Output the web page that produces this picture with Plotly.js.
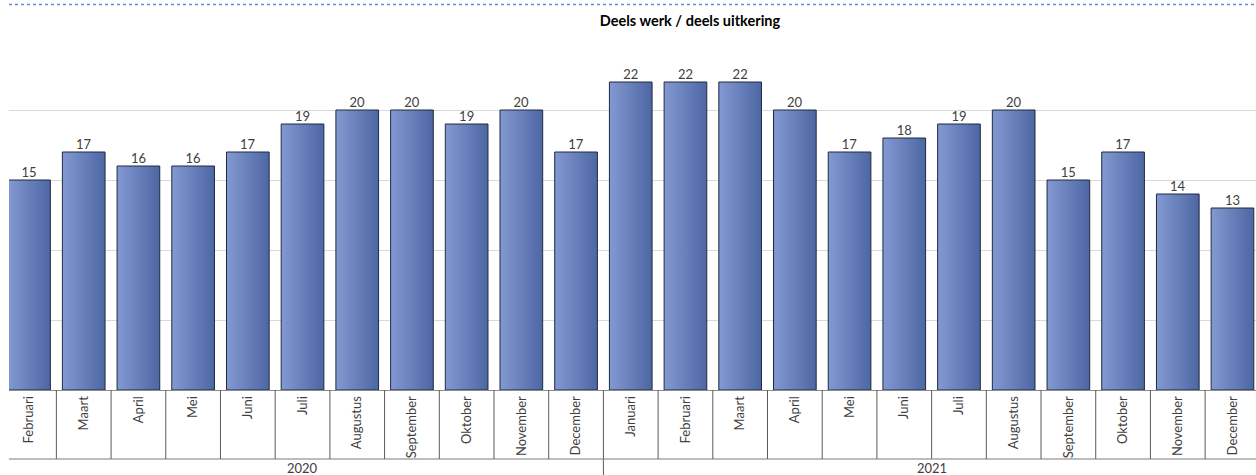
<!DOCTYPE html>
<html>
<head>
<meta charset="utf-8">
<script src="https://cdn.plot.ly/plotly-3.0.1.min.js"></script>
<style>html,body{margin:0;padding:0;background:#fff;}#chart{width:1256px;height:475px;}</style>
</head>
<body>
<div id="chart"></div>
<script>
// ---- data ----
const years = ["2020", "2021"];
const months2020 = ["Februari","Maart","April","Mei","Juni","Juli","Augustus","September","Oktober","November","December"];
const months2021 = ["Januari","Februari","Maart","April","Mei","Juni","Juli","Augustus","September","Oktober","November","December"];
const values2020 = [15, 17, 16, 16, 17, 19, 20, 20, 19, 20, 17];
const values2021 = [22, 22, 22, 20, 17, 18, 19, 20, 15, 17, 14, 13];
const chartTitle = "Deels werk / deels uitkering";

// ---- build ----
const months = months2020.concat(months2021);
const values = values2020.concat(values2021);
const cats = months2020.map(m => "2020 " + m).concat(months2021.map(m => "2021 " + m));

const FONT = "Lato, 'Open Sans', sans-serif";
const plotH = 350; // px height of plot area
const py = px => (390 - px) / plotH; // helper: page px -> paper y

const shapes = [];
// top dotted line
shapes.push({type:'line', xref:'paper', yref:'paper', x0:0, x1:1, y0:py(4.5), y1:py(4.5),
  line:{color:'#5b8fd6', width:1.5, dash:'dot'}});
// category separators
for (let i = 1; i < cats.length; i++) {
  const isYear = (i === months2020.length);
  shapes.push({type:'line', xref:'x', yref:'paper', x0:i-0.5, x1:i-0.5,
    y0:0, y1: isYear ? py(476) : py(459), line:{color:'#5a5a5a', width:1}});
}
// horizontal line under month labels
shapes.push({type:'line', xref:'paper', yref:'paper', x0:0, x1:1, y0:py(459), y1:py(459),
  line:{color:'#7a7a7a', width:1}});

const annotations = [
  {xref:'x', yref:'paper', x:(months2020.length-1)/2, y:py(467.5), text:years[0], showarrow:false,
   font:{family:FONT, size:13, color:'#404040'}, yanchor:'middle'},
  {xref:'x', yref:'paper', x:months2020.length + (months2021.length-1)/2, y:py(467.5), text:years[1], showarrow:false,
   font:{family:FONT, size:13, color:'#404040'}, yanchor:'middle'}
];

const trace = {
  type:'bar', x:cats, y:values,
  text: values.map(String), textposition:'outside', cliponaxis:false,
  textfont:{family:FONT, size:13, color:'#404040'},
  marker:{color:'#6a82bf', line:{color:'#1f2940', width:1}},
  hoverinfo:'x+y'
};

const layout = {
  width:1256, height:475,
  margin:{l:9, r:0, t:40, b:85, pad:0},
  paper_bgcolor:'#fff', plot_bgcolor:'#fff',
  showlegend:false,
  bargap:0.22,
  font:{family:FONT, size:13, color:'#404040'},
  title:{text:'<b>' + chartTitle + '</b>', x:690/1256, xref:'container', xanchor:'center',
         y:1 - 21/475, yref:'container', yanchor:'middle',
         font:{family:FONT, size:14.5, color:'#000'}},
  xaxis:{type:'category', range:[-0.366, 22.43], tickvals:cats, ticktext:months,
         tickangle:-90, ticks:'', showgrid:false, zeroline:false,
         showline:true, linecolor:'#8c8c8c', linewidth:1,
         tickfont:{family:FONT, size:13, color:'#404040'}, fixedrange:true},
  yaxis:{range:[0, 25], dtick:5, showticklabels:false, ticks:'', showgrid:true,
         gridcolor:'#d9d9d9', gridwidth:1, zeroline:false, showline:false, fixedrange:true},
  shapes:shapes, annotations:annotations
};

Plotly.newPlot('chart', [trace], layout, {displayModeBar:false, staticPlot:true}).then(gd => {
  const svg = gd.querySelector('.main-svg');
  const ns = 'http://www.w3.org/2000/svg';
  let defs = svg.querySelector('defs');
  const grad = document.createElementNS(ns, 'linearGradient');
  grad.setAttribute('id', 'barGrad');
  grad.setAttribute('x1', '0'); grad.setAttribute('y1', '0');
  grad.setAttribute('x2', '1'); grad.setAttribute('y2', '0');
  [['0%', '#8399d2'], ['100%', '#4d67a3']].forEach(([o, c]) => {
    const s = document.createElementNS(ns, 'stop');
    s.setAttribute('offset', o); s.setAttribute('stop-color', c);
    grad.appendChild(s);
  });
  defs.appendChild(grad);
  gd.querySelectorAll('.bars .point path').forEach(p => { p.style.fill = 'url(#barGrad)'; });
  // bring value labels closer to the bar tops
  gd.querySelectorAll('.bars .point text').forEach(t => {
    const prev = t.getAttribute('transform') || '';
    t.setAttribute('transform', 'translate(0,2.5) ' + prev);
  });
});
</script>
</body>
</html>
